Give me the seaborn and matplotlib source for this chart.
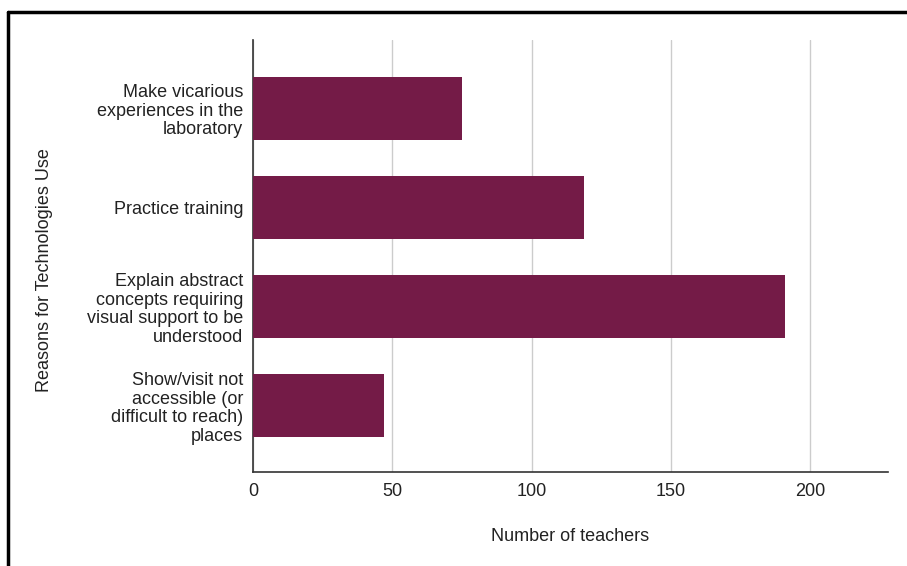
import pandas as pd
import matplotlib
matplotlib.use('Agg')
import matplotlib.pyplot as plt
import seaborn as sns
from matplotlib.lines import Line2D

# Reasons for technologies use, number of teachers
reasons = ['Make vicarious\nexperiences in the\nlaboratory',
           'Practice training',
           'Explain abstract\nconcepts requiring\nvisual support to be\nunderstood',
           'Show/visit not\naccessible (or\ndifficult to reach)\nplaces']
teachers = [75, 119, 191, 47]
x_ticks = [0, 50, 100, 150, 200]

df = pd.DataFrame({'Reason': reasons, 'Teachers': teachers})

sns.set_theme(style='white')
plt.rcParams['font.family'] = ['Liberation Sans', 'DejaVu Sans']

fig = plt.figure(figsize=(9.07, 5.66), dpi=100)
ax = fig.add_axes([253 / 907, 1 - 472 / 566, (888 - 253) / 907, (472 - 40) / 566])

sns.barplot(data=df, x='Teachers', y='Reason', color='#741B47', width=0.64,
            saturation=1, linewidth=0, ax=ax, zorder=3)

ax.set_xlim(0, 228)
ax.set_ylim(3.67, -0.69)
ax.set_xticks(x_ticks)
ax.xaxis.grid(True, color='#cccccc', linewidth=1, zorder=0)
ax.set_axisbelow(True)
ax.tick_params(axis='both', length=0, labelsize=13, colors='#222222')
ax.tick_params(axis='x', pad=8)
ax.tick_params(axis='y', pad=7)
for lab in ax.get_yticklabels():
    lab.set_horizontalalignment('right')
    lab.set_linespacing(1.12)

for s in ['top', 'right']:
    ax.spines[s].set_visible(False)
for s in ['left', 'bottom']:
    ax.spines[s].set_color('#333333')
    ax.spines[s].set_linewidth(1.2)

ax.set_xlabel('Number of teachers', fontsize=13, color='#222222', labelpad=20)
ax.set_ylabel('')
fig.text(45 / 907, 1 - 270 / 566, 'Reasons for Technologies Use', rotation=90,
         fontsize=13, color='#222222', ha='center', va='center')

# outer frame (top and left edges visible)
fig.add_artist(Line2D([8 / 907, 1], [1 - 12 / 566, 1 - 12 / 566], color='black', linewidth=2.5))
fig.add_artist(Line2D([8 / 907, 8 / 907], [0, 1 - 12 / 566], color='black', linewidth=2.5))

fig.savefig('out.png', dpi=100)
